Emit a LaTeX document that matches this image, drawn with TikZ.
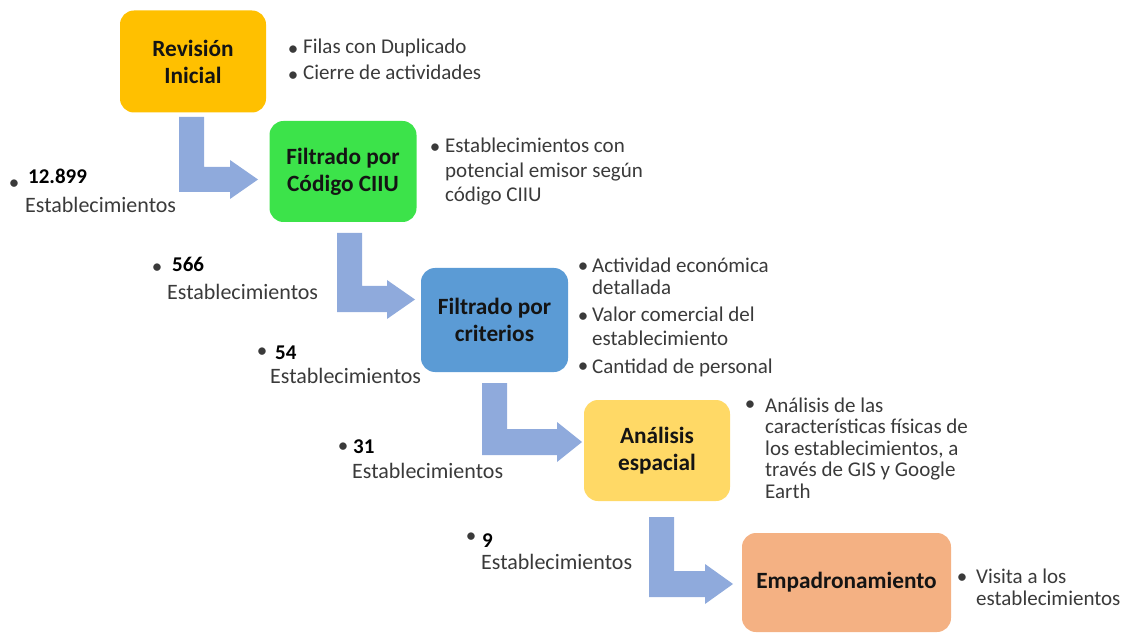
\documentclass[tikz,border=0pt]{standalone}
\usepackage{fontspec}
\setmainfont{Carlito}
\definecolor{cgold}{HTML}{FFC000}
\definecolor{cgreen}{HTML}{3CE34A}
\definecolor{cblue}{HTML}{5B9BD5}
\definecolor{cyellow}{HTML}{FFD966}
\definecolor{corange}{HTML}{F4B183}
\definecolor{carrow}{HTML}{8FAADC}
\definecolor{ctext}{HTML}{3A3A3A}
\definecolor{ctitle}{HTML}{141414}
\begin{document}
\begin{tikzpicture}[x=1bp,y=-1bp,
  box/.style={rounded corners=14bp, inner sep=0pt, align=center, text=ctitle,
    font=\fontsize{23.3bp}{27bp}\selectfont\bfseries},
  txt/.style={anchor=base west, inner sep=0pt, align=left, text=ctext,
    font=\fontsize{21bp}{#1}\selectfont},
  txt/.default={24.5bp},
  est/.style={anchor=base west, inner sep=0pt, text=ctext,
    font=\fontsize{22bp}{22bp}\selectfont},
  bul/.style={inner sep=0pt, text=ctext, font=\fontsize{21bp}{21bp}\selectfont},
  num/.style={anchor=base west, inner sep=0pt, text=black,
    font=\fontsize{21bp}{21bp}\selectfont\bfseries},
  barrow/.style={fill=carrow, draw=none}]
\useasboundingbox (0,0) rectangle (1123,633);

% boxes
\node[box, fill=cgold, minimum width=146bp, minimum height=102bp] (b1) at (193,61.5) {Revisión\\Inicial};
\node[box, fill=cgreen, minimum width=147bp, minimum height=101bp] (b2) at (343,171.5) {Filtrado por\\Código CIIU};
\node[box, fill=cblue, minimum width=147bp, minimum height=104bp] (b3) at (494.5,320) {Filtrado por\\criterios};
\node[box, fill=cyellow, minimum width=146bp, minimum height=101bp] (b4) at (657,450.5) {Análisis\\espacial};
\node[box, fill=corange, minimum width=209bp, minimum height=99bp] (b5) at (846.5,582.5) {Empadronamiento};

% bent block arrows
\fill[barrow] (179,117) -- (204,117) -- (204,167) -- (230,167) -- (230,160) -- (258,179.5)
  -- (230,199) -- (230,192) -- (179,192) -- cycle;
\fill[barrow] (337,233) -- (362,233) -- (362,286) -- (387,286) -- (387,280) -- (415,299.5)
  -- (387,319) -- (387,312) -- (337,312) -- cycle;
\fill[barrow] (482,383) -- (507,383) -- (507,429) -- (557,429) -- (557,422) -- (582,442)
  -- (557,462) -- (557,455) -- (482,455) -- cycle;
\fill[barrow] (649,517) -- (674,517) -- (674,571) -- (705,571) -- (705,564) -- (733,584)
  -- (705,604) -- (705,597) -- (649,597) -- cycle;

% side lists (base anchor = baseline of the last line)
\node[bul] (p1a) at (293,50.5) {\textbullet};
\node[txt] (t1a) at (303,54) {Filas con Duplicado};
\node[bul] (p1b) at (293,76.5) {\textbullet};
\node[txt] (t1b) at (303,80) {Cierre de actividades};

\node[bul] (p2) at (435,149) {\textbullet};
\node[txt] (t2) at (445,202) {Establecimientos con\\potencial emisor según\\código CIIU};

\node[bul] (p3a) at (583,268) {\textbullet};
\node[txt=22bp] (t3a) at (592,295) {Actividad económica\\detallada};
\node[bul] (p3b) at (583,318) {\textbullet};
\node[txt=23bp] (t3b) at (592,345) {Valor comercial del\\establecimiento};
\node[bul] (p3c) at (583,368) {\textbullet};
\node[txt] (t3c) at (592,373) {Cantidad de personal};

\node[bul] (p4) at (750,406) {\textbullet};
\node[txt=21.5bp] (t4) at (765,498) {Análisis de las\\características físicas de\\los establecimientos, a\\través de GIS y Google\\Earth};

\node[bul] (p5) at (962,579) {\textbullet};
\node[txt=22bp] (t5) at (976,605) {Visita a los\\establecimientos};

% counts
\node[bul] (q1) at (14,185) {\textbullet};
\node[num] (n1) at (28,184) {12.899};
\node[est] (e1) at (25,213) {Establecimientos};

\node[bul] (q2) at (157,269) {\textbullet};
\node[num] (n2) at (172,272) {566};
\node[est] (e2) at (167,300) {Establecimientos};

\node[bul] (q3) at (262,353) {\textbullet};
\node[num] (n3) at (275,359) {54};
\node[est] (e3) at (270,383) {Establecimientos};

\node[bul] (q4) at (343,448) {\textbullet};
\node[num] (n4) at (353,453) {31};
\node[est] (e4) at (352,478) {Establecimientos};

\node[bul] (q5) at (471,538) {\textbullet};
\node[num] (n5) at (482,547) {9};
\node[est] (e5) at (481,569) {Establecimientos};
\end{tikzpicture}
\end{document}
